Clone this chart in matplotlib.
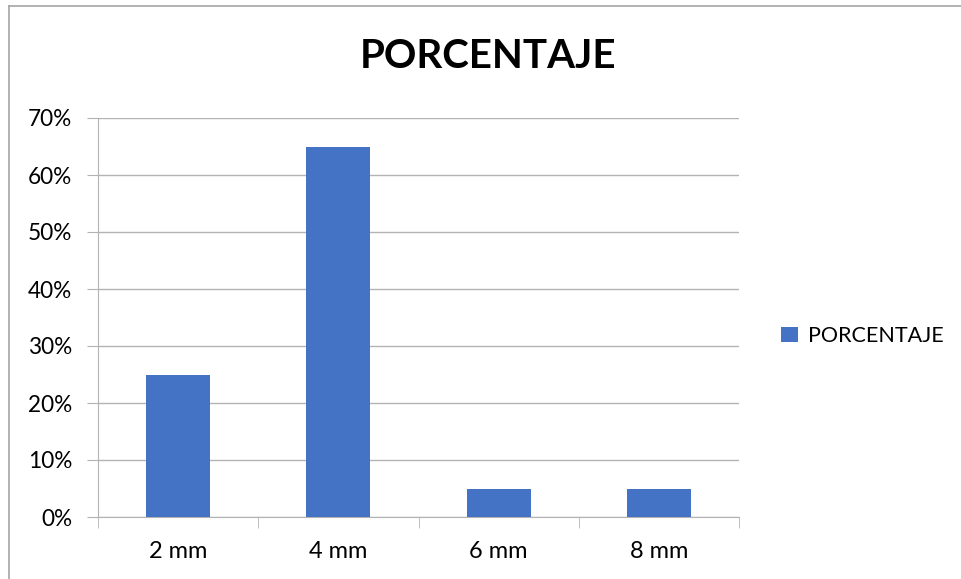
import matplotlib.pyplot as plt
from matplotlib.lines import Line2D
from matplotlib.ticker import PercentFormatter

categories = ["2 mm", "4 mm", "6 mm", "8 mm"]
porcentaje = [0.25, 0.65, 0.05, 0.05]
yticks = [0, 0.1, 0.2, 0.3, 0.4, 0.5, 0.6, 0.7]

plt.rcParams['font.family'] = ['Lato', 'DejaVu Sans']

fig = plt.figure(figsize=(9.61, 5.79), dpi=100)
ax = fig.add_axes([98/961, 1 - 517/579, (739 - 98)/961, (517 - 118)/579])

grid_c = "#b3b3b3"
xs = range(len(categories))
ax.bar(xs, porcentaje, width=0.4, color="#4472C4", label="PORCENTAJE", zorder=3)

ax.set_xlim(-0.5, len(categories) - 0.5)
ax.set_ylim(0, 0.7)
ax.set_yticks(yticks)
ax.yaxis.set_major_formatter(PercentFormatter(1.0, decimals=0))
ax.set_xticks(list(xs))
ax.set_xticklabels(categories, fontsize=17)
ax.tick_params(axis='x', length=0, pad=17)
ax.tick_params(axis='y', length=8, color=grid_c, labelsize=16.3, pad=10.5)
ax.set_xticks([i - 0.5 for i in range(len(categories) + 1)], minor=True)
ax.tick_params(axis='x', which='minor', length=8, color=grid_c)
ax.grid(axis='y', color=grid_c, linewidth=1, zorder=0)

for side in ["top", "right"]:
    ax.spines[side].set_visible(False)
ax.spines["left"].set_color(grid_c)
ax.spines["bottom"].set_color(grid_c)

fig.text(488/961, 1 - 57/579, "PORCENTAJE", fontsize=29, fontweight='bold',
         ha='center', va='center')

fig.legend(loc='center left', bbox_to_anchor=(762/961, 1 - 336/579), frameon=False,
           fontsize=15.5, handlelength=0.75, handleheight=0.75, handletextpad=0.5)

# chart frame along the top and left edges
fig.add_artist(Line2D([9/961, 1], [1 - 6/579, 1 - 6/579], color="#a6a6a6", lw=1.2,
                      transform=fig.transFigure))
fig.add_artist(Line2D([9/961, 9/961], [0, 1 - 6/579], color="#a6a6a6", lw=1.2,
                      transform=fig.transFigure))

fig.savefig("out.png", dpi=100)
